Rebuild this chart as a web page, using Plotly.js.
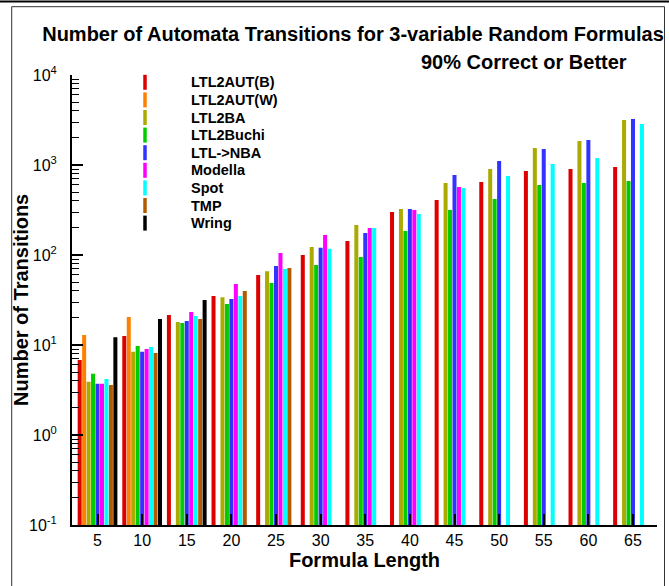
<!DOCTYPE html>
<html><head><meta charset="utf-8">
<script src="https://cdn.plot.ly/plotly-3.0.1.min.js"></script>
<style>html,body{margin:0;padding:0;background:#fff}#chart{width:669px;height:586px}</style>
</head><body><div id="chart"></div>
<script>
// ---- data ----
const formulaLengths = [5, 10, 15, 20, 25, 30, 35, 40, 45, 50, 55, 60, 65];
const ltl2autB  = [6.8, 12.6, 21.5, 35, 60, 100, 143, 300, 408, 647, 858, 903, 950];
const ltl2autW  = [12.9, 20.5, null, null, null, null, null, null, null, null, null, null, null];
const ltl2ba    = [3.9, 8.4, 18.0, 34, 66, 123, 215, 324, 631, 903, 1545, 1848, 3162];
const ltl2buchi = [4.8, 9.75, 17.6, 28.6, 48.8, 77.4, 95, 185, 316, 419, 600, 631, 664];
const ltlNba    = [3.7, 8.4, 18.5, 32.5, 75.5, 120, 176, 324, 774, 1108, 1506, 1896, 3243];
const modella   = [3.7, 9.0, 23.3, 47.6, 105, 167, 200, 316, 570, null, null, null, null];
const spot      = [4.2, 9.5, 21.0, 35, 70, 117, 200, 285, 555, 755, 1026, 1196, 2855];
const tmp       = [3.6, 8.15, 19.4, 39.8, 71.7, null, null, null, null, null, null, null, null];
const wring     = [12.2, 19.4, 31.6, null, null, null, null, null, null, null, null, null, null];

const seriesNames  = ['LTL2AUT(B)', 'LTL2AUT(W)', 'LTL2BA', 'LTL2Buchi', 'LTL->NBA', 'Modella', 'Spot', 'TMP', 'Wring'];
const seriesValues = [ltl2autB, ltl2autW, ltl2ba, ltl2buchi, ltlNba, modella, spot, tmp, wring];
const seriesColors = ['#dd0000', '#ff8000', '#aaaa00', '#00cc00', '#3333ff', '#ff00ff', '#00ffff', '#b35900', '#000000'];

const yTickVals = [0.1, 1, 10, 100, 1000, 10000];
const yTickText = ['10<sup>-1</sup>', '10<sup>0</sup>', '10<sup>1</sup>', '10<sup>2</sup>', '10<sup>3</sup>', '10<sup>4</sup>'];

// ---- layout helpers (pixels -> paper) ----
const W = 669, H = 586, ML = 72, MR = 12, MT = 75, MB = 61;
const PW = W - ML - MR, PH = H - MT - MB;
const px = x => (x - ML) / PW;
const py = y => (H - MB - y) / PH;

const minorVals = [];
for (let d = -1; d <= 3; d++) for (let k = 2; k <= 9; k++) minorVals.push(k * Math.pow(10, d));

const FONT = '"Liberation Sans", Arial, Helvetica, sans-serif';

const traces = seriesNames.map((n, i) => ({
  type: 'bar', name: n, x: formulaLengths, y: seriesValues[i],
  marker: {color: seriesColors[i], line: {width: 0}}, showlegend: false
}));

const annotations = [{
  text: '90% Correct or Better', xref: 'paper', yref: 'paper',
  x: px(524), y: py(62), xanchor: 'center', yanchor: 'middle', showarrow: false,
  font: {family: FONT, size: 20, weight: 700, color: '#000'}
}, {
  text: 'Number of Transitions', xref: 'paper', yref: 'paper',
  x: px(21), y: py(300), xanchor: 'center', yanchor: 'middle', textangle: -90, showarrow: false,
  font: {family: FONT, size: 20, weight: 700, color: '#000'}
}];
const shapes = [
  {type: 'line', xref: 'paper', yref: 'paper', x0: px(0), x1: px(669), y0: py(1.5), y1: py(1.5), line: {color: '#000', width: 2}},
  {type: 'rect', xref: 'paper', yref: 'paper', x0: px(11.7), x1: px(664.5), y0: py(6.7), y1: py(600), line: {color: '#333', width: 1}}
];
seriesNames.forEach((n, i) => {
  const yc = 82.3 + 17.6 * i;
  annotations.push({
    text: n, xref: 'paper', yref: 'paper', x: px(189), y: py(yc),
    xanchor: 'left', yanchor: 'middle', showarrow: false,
    font: {family: FONT, size: 14.5, weight: 700, color: '#000'}
  });
  shapes.push({
    type: 'rect', xref: 'paper', yref: 'paper',
    xsizemode: 'pixel', xanchor: px(145), x0: -1.75, x1: 1.75,
    ysizemode: 'pixel', yanchor: py(yc), y0: -7.5, y1: 7.5,
    fillcolor: seriesColors[i], line: {width: 0}
  });
});

const layout = {
  width: W, height: H,
  margin: {l: ML, r: MR, t: MT, b: MB},
  paper_bgcolor: '#fff', plot_bgcolor: '#fff',
  font: {family: FONT, color: '#000'},
  barmode: 'group', bargap: 0.1, bargroupgap: 0.1,
  title: {
    text: 'Number of Automata Transitions for 3-variable Random Formulas',
    font: {family: FONT, size: 20, weight: 700, color: '#000'},
    xref: 'paper', x: px(353), xanchor: 'center',
    yref: 'container', y: 1 - 34 / H, yanchor: 'middle'
  },
  xaxis: {
    range: [2.14, 67.69], tickmode: 'array', tickvals: formulaLengths,
    ticks: 'inside', ticklen: 11, tickwidth: 2, tickcolor: '#000',
    showline: true, linewidth: 2, linecolor: '#000',
    showgrid: false, zeroline: false,
    tickfont: {family: FONT, size: 16, color: '#000'},
    title: {text: 'Formula Length', font: {family: FONT, size: 20, weight: 700, color: '#000'}, standoff: 0}
  },
  yaxis: {
    type: 'log', range: [-1, 4], tickmode: 'array', tickvals: yTickVals, ticktext: yTickText,
    ticks: 'inside', ticklen: 11, tickwidth: 2.5, tickcolor: '#000',
    minor: {tickmode: 'array', tickvals: minorVals, ticks: 'inside', ticklen: 7, tickwidth: 1, tickcolor: '#000', showgrid: false},
    showline: true, linewidth: 2, linecolor: '#000',
    showgrid: false, zeroline: false, ticklabelstandoff: 10,
    tickfont: {family: FONT, size: 16, color: '#000'}
  },
  annotations: annotations,
  shapes: shapes
};

Plotly.newPlot('chart', traces, layout, {displayModeBar: false, staticPlot: true});
</script>
</body></html>
